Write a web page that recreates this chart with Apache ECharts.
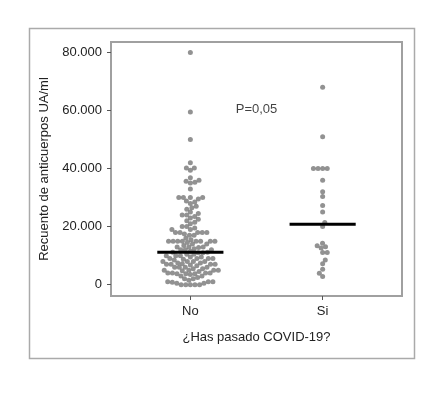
<!DOCTYPE html>
<html>
<head>
<meta charset="utf-8">
<script src="https://cdn.jsdelivr.net/npm/echarts@6/dist/echarts.min.js"></script>
<style>
  html, body { margin: 0; padding: 0; background: #fff; }
  #chart { width: 442px; height: 410px; }
</style>
</head>
<body>
<div id="chart"></div>
<script>
// groups on the x axis (1 = No, 2 = Si)
const groups = ['No', 'Si'];

// antibody counts (UA/ml)
const noValues = [
  0, 0, 0, 0, 0, 500, 500, 800, 1000, 1000, 1000, 1500,
  2000, 2000, 2500, 3000, 3000, 3500, 3800, 3800, 3800, 4000, 4000, 4000, 4000,
  4500, 4800, 5000, 5000, 5000, 5000, 5500, 5500, 6000, 6000, 6000, 6000,
  6500, 6800, 7000, 7000, 7000, 7000, 7200, 7500, 7500, 8000, 8000, 8000, 8000,
  8500, 8800, 9000, 9000, 9000, 9000, 9500, 9500, 10000, 10000, 10000,
  10500, 10500, 11000, 11000, 11200, 11200,
  11500, 12000, 12000, 12000, 12400,
  12800, 13000, 13000, 13000, 13500, 14000, 14000, 14500,
  15000, 15000, 15000, 15000, 15000, 15000, 15000, 15000, 15500, 16000,
  17000, 17000, 17500, 18000, 18000, 18000, 18000, 18000,
  19000, 19000, 19500, 20000, 20000,
  21000, 21500, 22000, 22500,
  23000, 23500, 24000, 24000, 24500,
  25000, 26000, 26500,
  27000, 28000, 28500, 28800,
  29500, 30000, 30000, 30000, 30000,
  33000, 35000, 35300, 35600, 36000, 36800, 39400, 40200, 40200, 42000,
  50000, 59500, 80000
];
const siValues = [
  2800, 3900, 5300, 7200, 8500, 11100, 11100, 12600, 13100, 13400, 14300, 20000,
  21400, 25000, 27300, 30400, 32000, 36000, 40000, 40000, 40000, 40000, 51000, 68000
];
const medians = [11200, 20800];
const yTicks = [0, 20000, 40000, 60000, 80000];
const pValueText = 'P=0,05';
const pValuePos = [1.5, 60300];

const dotSize = 5;
const spacing = 4.6;

const chart = echarts.init(document.getElementById('chart'));

function fmt(v) {
  return String(v).replace(/\B(?=(\d{3})+(?!\d))/g, '.');
}

function medianLine(i) {
  return {
    type: 'line',
    data: [[i + 1 - 0.25, medians[i]], [i + 1 + 0.25, medians[i]]],
    symbol: 'none',
    lineStyle: { color: '#000', width: 3 },
    z: 5
  };
}

const option = {
  animation: false,
  textStyle: { fontFamily: '"Liberation Sans", Arial, sans-serif' },
  graphic: [{
    type: 'rect',
    left: 27, top: 26,
    shape: { width: 385, height: 330 },
    style: { fill: 'none', stroke: '#aaa', lineWidth: 1.5 }
  }],
  grid: {
    left: 111, top: 42, right: 40, bottom: 114,
    show: true, borderColor: '#a0a0a0', borderWidth: 2
  },
  xAxis: {
    type: 'value', min: 0.4, max: 2.6,
    splitLine: { show: false },
    axisLine: { show: false, onZero: false },
    axisTick: { show: true, customValues: [1, 2], length: 4, lineStyle: { color: '#555' } },
    axisLabel: {
      customValues: [1, 2],
      formatter: v => groups[Math.round(v) - 1],
      color: '#222', fontSize: 13, margin: 9
    },
    name: '¿Has pasado COVID-19?',
    nameLocation: 'middle', nameGap: 35,
    nameTextStyle: { color: '#222', fontSize: 13 }
  },
  yAxis: {
    type: 'value', min: -3900, max: 83600,
    splitLine: { show: false },
    axisLine: { show: false },
    axisTick: { show: true, customValues: yTicks, length: 4, lineStyle: { color: '#555' } },
    axisLabel: { customValues: yTicks, formatter: fmt, color: '#222', fontSize: 13, margin: 9 },
    name: 'Recuento de anticuerpos UA/ml',
    nameLocation: 'middle', nameGap: 52,
    nameTextStyle: { color: '#222', fontSize: 13 }
  },
  series: [
    { type: 'scatter', data: [], symbolSize: dotSize, itemStyle: { color: '#777' } },
    { type: 'scatter', data: [], symbolSize: dotSize, itemStyle: { color: '#777' } },
    medianLine(0),
    medianLine(1),
    {
      type: 'scatter', data: [pValuePos], symbolSize: 0,
      label: { show: true, position: 'inside', formatter: pValueText, color: '#111', fontSize: 13 }
    }
  ]
};
chart.setOption(option);

// beeswarm layout: spread the dots sideways so they do not overlap
function swarm(values, center) {
  const placed = [];
  const cx = chart.convertToPixel({ gridIndex: 0 }, [center, 0])[0];
  return values.slice().sort((a, b) => a - b).map((v, i) => {
    const py = chart.convertToPixel({ gridIndex: 0 }, [center, v])[1];
    const side = i % 2 ? 1 : -1;
    const cands = [0];
    placed.forEach(p => {
      const dy = Math.abs(p.y - py);
      if (dy < spacing) {
        const dx = Math.sqrt(spacing * spacing - dy * dy);
        cands.push(p.x + dx, p.x - dx);
      }
    });
    cands.sort((a, b) => (Math.abs(a) - Math.abs(b)) || (a - b) * side);
    const x = cands.find(c => placed.every(p => (p.x - c) ** 2 + (p.y - py) ** 2 >= spacing * spacing - 0.01));
    placed.push({ x: x, y: py });
    return [chart.convertFromPixel({ gridIndex: 0 }, [cx + x, py])[0], v];
  });
}

chart.setOption({
  series: [
    { data: swarm(noValues, 1) },
    { data: swarm(siValues, 2) }
  ]
});
</script>
</body>
</html>
